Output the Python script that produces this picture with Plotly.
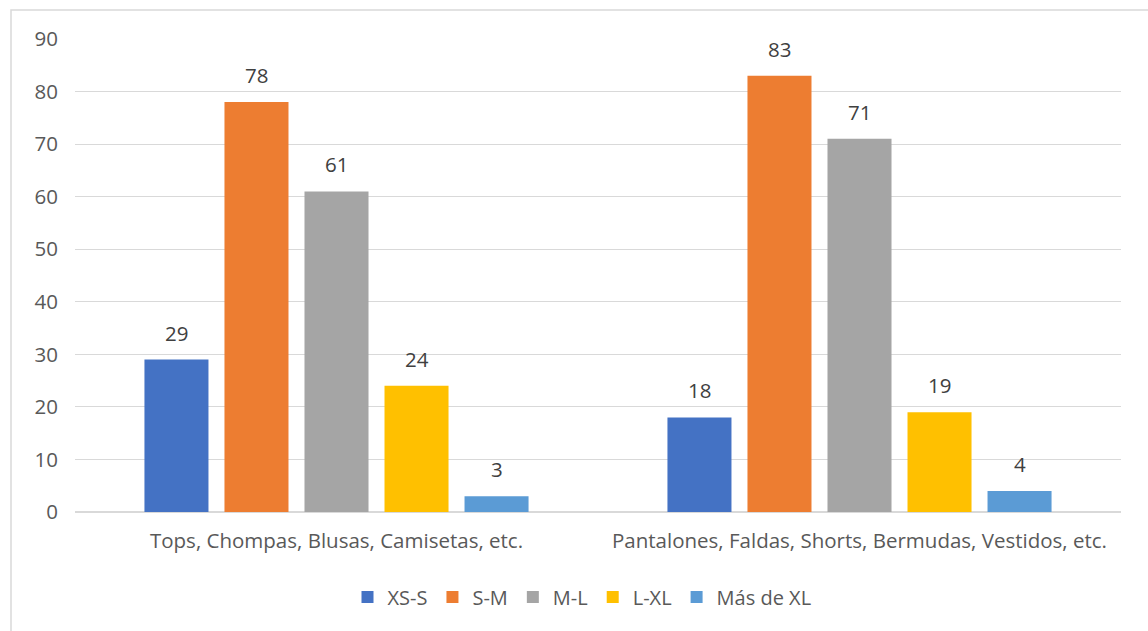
import plotly.graph_objects as go

categories = ["Tops, Chompas, Blusas, Camisetas, etc.",
              "Pantalones, Faldas, Shorts, Bermudas, Vestidos, etc."]
series_names = ["XS-S", "S-M", "M-L", "L-XL", "Más de XL"]
xs_s = [29, 18]
s_m = [78, 83]
m_l = [61, 71]
l_xl = [24, 19]
mas_xl = [3, 4]
series_values = [xs_s, s_m, m_l, l_xl, mas_xl]
colors = ["#4472C4", "#ED7D31", "#A5A5A5", "#FFC000", "#5B9BD5"]

W, H = 1148, 631
ML, MR, MT, MB = 75, 27, 38.5, 119
FONT = "Open Sans"
FS = 20.5
BARGAP, BARGROUPGAP = 0.235, 0.2

pw = W - ML - MR
ph = H - MT - MB

fig = go.Figure()
n = len(series_names)
slot = (pw / len(categories)) * (1 - BARGAP) / n
for i, (name, vals, col) in enumerate(zip(series_names, series_values, colors)):
    fig.add_trace(go.Bar(
        x=categories, y=vals, name=name, marker=dict(color=col, line=dict(width=0)),
    ))
    # value labels above each bar, offset to the bar's slot within the group
    for cat, v in zip(categories, vals):
        fig.add_annotation(
            x=cat, y=v, text=str(v), showarrow=False,
            xshift=(i - (n - 1) / 2) * slot, yshift=27, yanchor="middle",
            font=dict(family=FONT, size=FS, color="#404040"),
        )

# light frame around the chart area
fig.add_shape(type="rect", xref="paper", yref="paper",
              x0=(11 - ML) / pw, x1=(1160 - ML) / pw,
              y0=(H - MB - 645) / ph, y1=(H - MB - 9.5) / ph,
              line=dict(color="#D9D9D9", width=1.5), fillcolor="rgba(0,0,0,0)", layer="below")

fig.update_layout(
    width=W, height=H,
    margin=dict(l=ML, r=MR, t=MT, b=MB),
    paper_bgcolor="white", plot_bgcolor="white",
    barmode="group", bargap=BARGAP, bargroupgap=BARGROUPGAP,
    font=dict(family=FONT, size=FS, color="#595959"),
    showlegend=True,
    legend=dict(orientation="h", x=0.5 - 16 / pw, xanchor="center", y=(H - MB - 597) / ph,
                yanchor="middle", font=dict(family=FONT, size=20, color="#595959"),
                itemwidth=30, traceorder="normal"),
    xaxis=dict(showgrid=False, showline=False, ticks="", ticklabelstandoff=14,
               tickfont=dict(family=FONT, size=FS, color="#595959")),
    yaxis=dict(range=[0, 90], dtick=10, showgrid=True, gridcolor="#D9D9D9", gridwidth=1,
               zeroline=True, zerolinecolor="#D9D9D9", zerolinewidth=1.5, showline=False,
               ticks="", ticklabelstandoff=16,
               tickfont=dict(family=FONT, size=FS, color="#595959")),
)

fig.write_html("out.html")
